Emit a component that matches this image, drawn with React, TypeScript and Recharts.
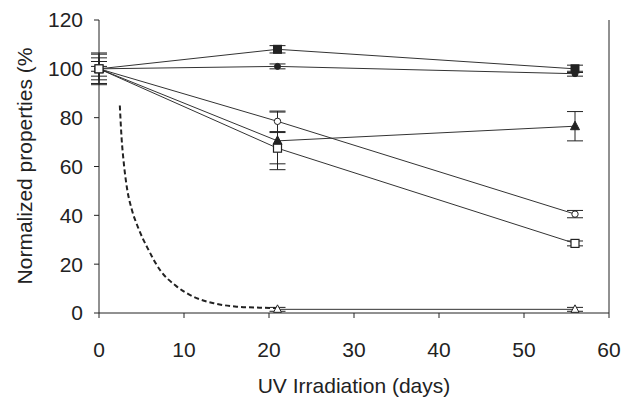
import { LineChart, Line, XAxis, YAxis, ErrorBar, ReferenceLine, Label } from "recharts";

const days = [0, 21, 56];

const filledSquare = [100, 108, 100];
const filledSquareErr = [3, 1.5, 1.5];

const filledCircle = [100, 101, 98];
const filledCircleErr = [1, 1, 1];

const openCircle = [100, 78.5, 40.5];
const openCircleErr = [6.5, 4.2, 1.5];

const filledTriangle = [100, 70.5, 76.5];
const filledTriangleErr = [4.5, 11.8, 6];

const openSquare = [100, 67.5, 28.5];
const openSquareErr = [6, 6.4, 1];

const openTriangleDays = [21, 56];
const openTriangle = [1.5, 1.5];
const openTriangleErr = [0.8, 0.8];

// dashed decay curve
const fitDays = [2.45, 2.65, 2.9, 3.3, 3.85, 4.6, 5.8, 7.2, 9.1, 11.1, 13.5, 16.2, 18.9, 20.9];
const fitValues = [85, 72, 62, 51, 42.5, 35, 26, 17.5, 11, 6.7, 4, 2.6, 2.2, 2.0];

const xTicks = [0, 10, 20, 30, 40, 50, 60];
const yTicks = [0, 20, 40, 60, 80, 100, 120];

const ink = "#222";
const font = "'Liberation Sans', Arial, sans-serif";

type Row = { day: number; value: number; err?: number };

const toRows = (xs: number[], values: number[], errs?: number[]): Row[] =>
  xs.map((d, i) => ({ day: d, value: values[i], err: errs ? errs[i] : undefined }));

type Shape = "filledSquare" | "filledCircle" | "openCircle" | "filledTriangle" | "openSquare" | "openTriangle";

function Marker({ cx, cy, shape }: { cx: number; cy: number; shape: Shape }) {
  if (cx == null || cy == null) return null;
  switch (shape) {
    case "filledSquare":
      return <rect x={cx - 4} y={cy - 4} width={8} height={8} fill={ink} stroke={ink} />;
    case "filledCircle":
      return <circle cx={cx} cy={cy} r={3} fill={ink} stroke={ink} />;
    case "openCircle":
      return <circle cx={cx} cy={cy} r={3.2} fill="#fff" stroke={ink} strokeWidth={1} />;
    case "filledTriangle":
      return <polygon points={`${cx},${cy - 5} ${cx + 4.5},${cy + 3.5} ${cx - 4.5},${cy + 3.5}`} fill={ink} stroke={ink} />;
    case "openSquare":
      return <rect x={cx - 4} y={cy - 4} width={8} height={8} fill="#fff" stroke={ink} strokeWidth={1.2} />;
    case "openTriangle":
      return <polygon points={`${cx},${cy - 4.5} ${cx + 4},${cy + 3} ${cx - 4},${cy + 3}`} fill="#fff" stroke={ink} strokeWidth={1} />;
  }
  return null;
}

const dotFor = (shape: Shape) => (p: any) => (
  <Marker key={`${shape}-${p.index}`} cx={p.cx} cy={p.cy} shape={shape} />
);

const series: { name: Shape; data: Row[] }[] = [
  { name: "filledSquare", data: toRows(days, filledSquare, filledSquareErr) },
  { name: "filledCircle", data: toRows(days, filledCircle, filledCircleErr) },
  { name: "openCircle", data: toRows(days, openCircle, openCircleErr) },
  { name: "filledTriangle", data: toRows(days, filledTriangle, filledTriangleErr) },
  { name: "openTriangle", data: toRows(openTriangleDays, openTriangle, openTriangleErr) },
  { name: "openSquare", data: toRows(days, openSquare, openSquareErr) },
];

const fitRows = toRows(fitDays, fitValues);

export default function App() {
  return (
    <div style={{ position: "absolute", left: 0, top: 0, background: "#fff", fontFamily: font }}>
      <LineChart width={624} height={398} margin={{ top: 20, right: 15, bottom: 0, left: 0 }}>
        <XAxis
          type="number"
          dataKey="day"
          domain={[0, 60]}
          ticks={xTicks}
          allowDuplicatedCategory={false}
          height={85}
          tickSize={5}
          tickMargin={24}
          stroke={ink}
          tick={{ fill: ink, fontSize: 21, fontFamily: font }}
        >
          <Label
            value="UV Irradiation (days)"
            position="insideBottom"
            offset={5}
            style={{ fill: ink, fontSize: 21, fontFamily: font }}
          />
        </XAxis>
        <YAxis
          type="number"
          domain={[0, 120]}
          ticks={yTicks}
          width={99}
          tickSize={5}
          tickMargin={11}
          stroke={ink}
          tick={{ fill: ink, fontSize: 21, fontFamily: font }}
        >
          <Label
            content={() => (
              <text
                x={32}
                y={166}
                transform="rotate(-90 32 166)"
                textAnchor="middle"
                fill={ink}
                fontSize={21}
                fontFamily={font}
              >
                Normalized properties (%
              </text>
            )}
          />
        </YAxis>
        <ReferenceLine x={60} stroke={ink} strokeWidth={1} ifOverflow="visible" />
        <Line
          data={fitRows}
          dataKey="value"
          type="monotone"
          stroke={ink}
          strokeWidth={2}
          strokeDasharray="5 3"
          dot={false}
          activeDot={false}
          isAnimationActive={false}
        />
        {series.map((s) => (
          <Line
            key={s.name}
            data={s.data}
            dataKey="value"
            type="linear"
            stroke="#333"
            strokeWidth={1}
            dot={dotFor(s.name)}
            activeDot={false}
            isAnimationActive={false}
          >
            <ErrorBar dataKey="err" direction="y" width={8} stroke={ink} strokeWidth={1} />
          </Line>
        ))}
      </LineChart>
    </div>
  );
}
